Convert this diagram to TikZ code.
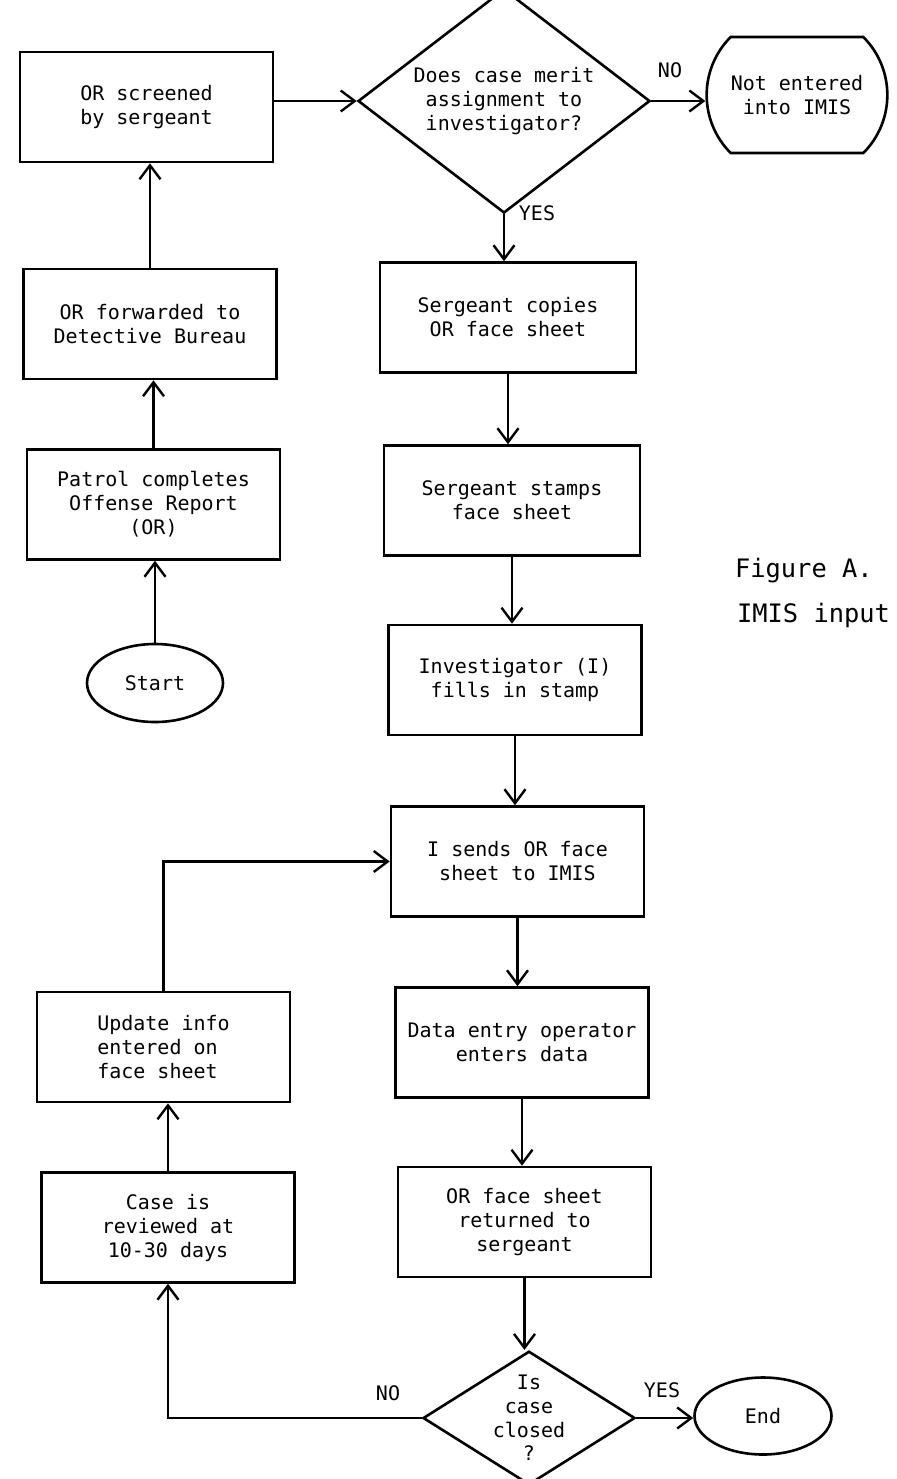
\documentclass[tikz,border=0pt]{standalone}
\usepackage{fontspec}
\setmonofont{DejaVu Sans Mono}
\usetikzlibrary{arrows.meta, positioning, shapes.geometric, shapes.misc}

\begin{document}
\begin{tikzpicture}[x=0.5pt, y=-0.5pt,
    every node/.style={font=\ttfamily\fontsize{10}{12}\selectfont},
    >={Straight Barb[length=7pt, width=10.5pt]},
    flow/.style={line width=1.2pt, ->},
    procbox/.style={draw, line width=1.3pt, rectangle, align=center,
        minimum width=126.5pt, minimum height=55pt, inner sep=2pt},
    decision/.style={draw, line width=1.3pt, diamond, align=center,
        inner sep=-3pt},
    terminal/.style={draw, line width=1.3pt, ellipse,
        minimum width=68pt, minimum height=39pt}]

    \useasboundingbox (0,0) rectangle (896,1479);

    % LEFT COLUMN: INTAKE
    \node[procbox] (screened) at (146.5,107) {OR screened\\by sergeant};
    \node[procbox] (forwarded) at (150,324)
        {OR forwarded to\\Detective Bureau};
    \node[procbox] (patrol) at (153.5,504.5)
        {Patrol completes\\Offense Report\\(OR)};
    \node[terminal] (start) at (155,683) {Start};

    % SCREENING DECISION
    \node[decision, minimum width=146pt, minimum height=85pt]
        (merit) at (504,101)
        {Does case merit\\assignment to\\investigator?};
    \node[draw, line width=1.3pt, rounded rectangle,
        rounded rectangle arc length=90, align=center,
        minimum width=97pt, minimum height=58pt]
        (notentered) at (797,95) {Not entered\\into IMIS};
    \node (noA) at (670,70) {NO};
    \node (yesA) at (537,213) {YES};

    % RIGHT COLUMN: PROCESSING
    \node[procbox, minimum width=128pt] (copies) at (508,317.5)
        {Sergeant copies\\OR face sheet};
    \node[procbox, minimum width=128pt] (stamps) at (512,500.5)
        {Sergeant stamps\\face sheet};
    \node[procbox] (fills) at (515,680) {Investigator (I)\\fills in stamp};
    \node[procbox] (sends) at (517.5,861.5) {I sends OR face\\sheet to IMIS};
    \node[procbox] (entry) at (522,1042.5)
        {Data entry operator\\enters data};
    \node[procbox] (returned) at (524.5,1222)
        {OR face sheet\\returned to\\sergeant};

    % CLOSING DECISION
    \node[decision, minimum width=106pt, minimum height=60pt,
        font=\ttfamily\fontsize{10}{11.8}\selectfont]
        (closed) at (529,1418) {Is\\case\\closed\\?};
    \node[terminal, minimum width=68.5pt, minimum height=38.5pt]
        (finish) at (763,1416) {End};
    \node (yesB) at (662,1390) {YES};
    \node (noB) at (388,1393) {NO};

    % LEFT COLUMN: FOLLOW-UP
    \node[procbox] (reviewed) at (168,1227.5)
        {Case is\\reviewed at\\10-30 days};
    \node[procbox, align=left] (update) at (163.5,1047)
        {Update info\\entered on\\face sheet};

    % CAPTION
    \node[anchor=west, font=\ttfamily\fontsize{12.7}{15}\selectfont]
        (figcap) at (728,571) {Figure A.};
    \node[anchor=west, font=\ttfamily\fontsize{12.7}{15}\selectfont]
        (figsub) at (730,615) {IMIS input};

    % CONNECTORS
    \draw[flow] (start.north) -- (start.north |- patrol.south);
    \draw[flow] (patrol.north) -- (patrol.north |- forwarded.south);
    \draw[flow] (forwarded.north) -- (forwarded.north |- screened.south);
    \draw[flow] (screened.east |- merit.west) -- (merit.west);
    \draw[flow] (merit.east) -- (merit.east -| notentered.west);
    \draw[flow] (merit.south) -- (merit.south |- copies.north);
    \draw[flow] (copies.south) -- (copies.south |- stamps.north);
    \draw[flow] (stamps.south) -- (stamps.south |- fills.north);
    \draw[flow] (fills.south) -- (fills.south |- sends.north);
    \draw[flow] (sends.south) -- (sends.south |- entry.north);
    \draw[flow] (entry.south) -- (entry.south |- returned.north);
    \draw[flow] (returned.south) -- (returned.south |- closed.north);
    \draw[flow] (closed.east) -- (closed.east -| finish.west);
    \draw[flow] (closed.west) -| (reviewed.south);
    \draw[flow] (reviewed.north) -- (reviewed.north |- update.south);
    \draw[flow] (update.north) |- (sends.west);

\end{tikzpicture}
\end{document}
